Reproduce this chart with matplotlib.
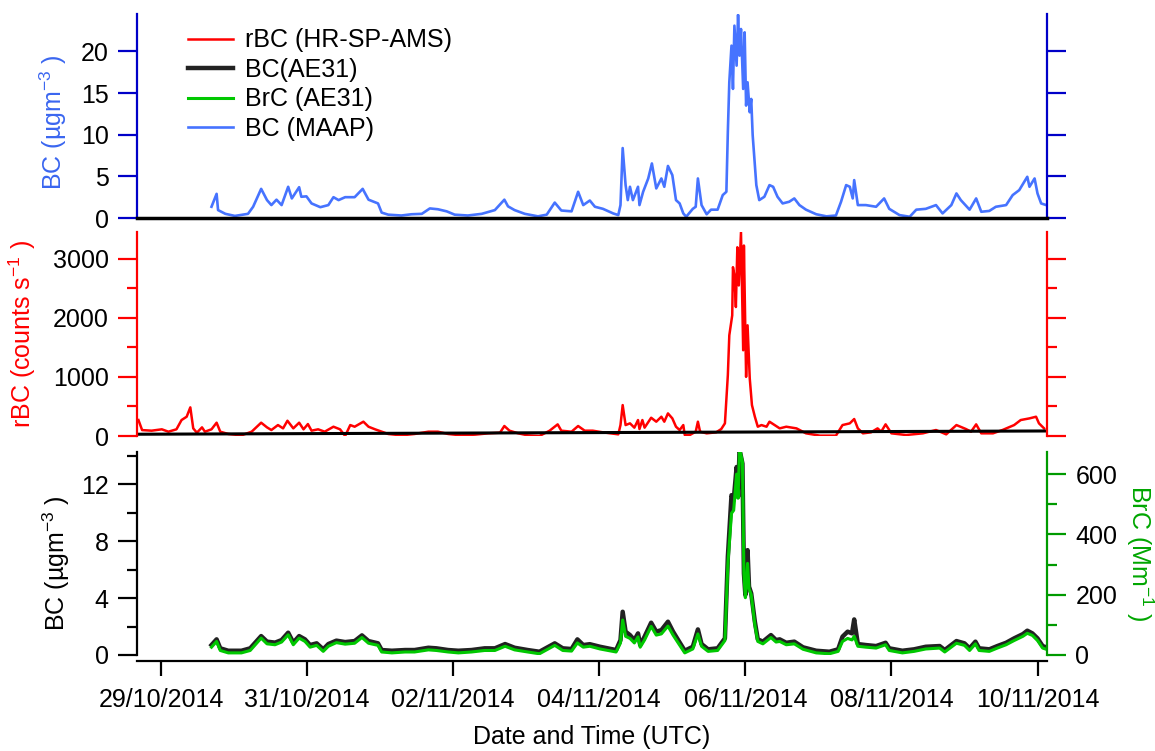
"""
Black carbon time series: MAAP, HR-SP-AMS and AE31 (Oct-Nov 2014).
"""

import numpy as np
import pandas as pd
import matplotlib
matplotlib.use("Agg")
import matplotlib.pyplot as plt
import matplotlib.dates as mdates
from matplotlib.ticker import MultipleLocator

plt.rcParams['font.family'] = ['Liberation Sans', 'DejaVu Sans']
plt.rcParams['mathtext.default'] = 'regular'

t0 = pd.Timestamp('2014-10-29 00:00')

# BC (MAAP), days since t0 and ug/m3
maap_day = [0.69, 0.76, 0.78, 0.88, 1.01, 1.19, 1.26, 1.37, 1.45, 1.51,
            1.58, 1.65, 1.74, 1.79, 1.89, 1.92, 1.99, 2.06, 2.18, 2.29,
            2.36, 2.43, 2.52, 2.65, 2.76, 2.84, 2.97, 3.02, 3.11, 3.29,
            3.43, 3.57, 3.68, 3.79, 3.91, 4.02, 4.20, 4.39, 4.57, 4.70,
            4.75, 4.84, 4.98, 5.16, 5.28, 5.39, 5.48, 5.62, 5.71, 5.78,
            5.87, 5.94, 6.05, 6.19, 6.26, 6.29, 6.32, 6.36, 6.39, 6.42,
            6.46, 6.53, 6.55, 6.60, 6.67, 6.72, 6.78, 6.85, 6.89, 6.94,
            7.00, 7.05, 7.10, 7.15, 7.19, 7.28, 7.32, 7.35, 7.40, 7.47,
            7.53, 7.62, 7.69, 7.74, 7.76, 7.78, 7.81, 7.83, 7.85, 7.88,
            7.90, 7.92, 7.94, 7.97, 7.99, 8.01, 8.03, 8.06, 8.08, 8.10,
            8.13, 8.15, 8.19, 8.26, 8.33, 8.38, 8.44, 8.51, 8.60, 8.67,
            8.74, 8.83, 8.97, 9.11, 9.24, 9.31, 9.38, 9.43, 9.47, 9.49,
            9.54, 9.65, 9.79, 9.90, 9.97, 10.11, 10.25, 10.34, 10.47, 10.61,
            10.70, 10.82, 10.89, 10.95, 11.07, 11.16, 11.23, 11.34, 11.43, 11.57,
            11.66, 11.75, 11.86, 11.89, 11.96, 12.00, 12.05, 12.12]
maap_bc = [1.35, 2.9, 0.95, 0.5, 0.25, 0.5, 1.35, 3.5, 2.15, 1.55,
           2.2, 1.55, 3.75, 2.35, 3.7, 2.55, 2.6, 1.75, 1.3, 1.55,
           2.5, 2.15, 2.5, 2.5, 3.5, 2.2, 1.75, 0.65, 0.4, 0.3,
           0.45, 0.5, 1.15, 1.05, 0.8, 0.4, 0.3, 0.5, 0.95, 2.2,
           1.4, 0.95, 0.5, 0.2, 0.4, 1.85, 0.9, 0.8, 3.15, 1.55,
           2.1, 1.35, 1.1, 0.55, 0.35, 1.55, 8.4, 3.95, 2.15, 3.75,
           2.15, 3.75, 1.55, 3.15, 4.75, 6.55, 3.55, 4.75, 3.75, 6.25,
           5.15, 2.15, 1.75, 0.55, 0.15, 1.1, 1.35, 4.75, 1.55, 0.45,
           1.0, 1.0, 2.75, 3.15, 10.35, 16.3, 20.7, 15.5, 23.1, 18.3,
           24.4, 19.5, 22.7, 15.5, 22.3, 13.5, 16.3, 12.7, 14.3, 9.95,
           6.35, 3.95, 2.15, 2.55, 3.95, 3.75, 2.55, 1.75, 1.95, 2.35,
           1.55, 1.0, 0.45, 0.2, 0.3, 1.95, 3.95, 3.75, 2.35, 4.55,
           1.55, 1.55, 1.35, 2.35, 1.1, 0.35, 0.15, 1.0, 1.1, 1.55,
           0.55, 1.55, 2.95, 2.15, 1.0, 2.35, 0.75, 0.85, 1.35, 1.55,
           2.75, 3.35, 4.95, 3.75, 4.75, 2.95, 1.75, 1.55]

# rBC (HR-SP-AMS), counts/s
rbc_day = [-0.31, -0.26, -0.13, 0.01, 0.10, 0.21, 0.28, 0.35, 0.40, 0.44,
           0.49, 0.56, 0.60, 0.69, 0.76, 0.81, 0.92, 1.10, 1.24, 1.37,
           1.45, 1.51, 1.60, 1.67, 1.73, 1.81, 1.89, 1.95, 2.01, 2.06,
           2.15, 2.24, 2.36, 2.45, 2.52, 2.59, 2.65, 2.77, 2.84, 2.93,
           3.02, 3.11, 3.29, 3.47, 3.66, 3.79, 3.93, 4.11, 4.30, 4.48,
           4.64, 4.70, 4.77, 4.89, 5.02, 5.18, 5.32, 5.43, 5.48, 5.62,
           5.71, 5.80, 5.91, 6.05, 6.26, 6.29, 6.32, 6.36, 6.42, 6.48,
           6.53, 6.55, 6.59, 6.62, 6.71, 6.78, 6.85, 6.89, 6.94, 7.00,
           7.05, 7.10, 7.15, 7.17, 7.24, 7.32, 7.35, 7.38, 7.47, 7.60,
           7.67, 7.72, 7.76, 7.78, 7.82, 7.83, 7.85, 7.87, 7.89, 7.91,
           7.94, 7.97, 7.98, 8.01, 8.03, 8.06, 8.09, 8.13, 8.17, 8.22,
           8.29, 8.33, 8.40, 8.47, 8.56, 8.70, 8.83, 9.02, 9.24, 9.33,
           9.43, 9.49, 9.54, 9.61, 9.72, 9.81, 9.86, 9.92, 10.00, 10.20,
           10.43, 10.61, 10.75, 10.89, 11.02, 11.09, 11.16, 11.23, 11.39, 11.52,
           11.68, 11.77, 11.89, 11.98, 12.02, 12.09]
rbc_counts = [270, 100, 90, 113, 73, 113, 270, 326, 484, 129,
              56, 146, 73, 113, 225, 73, 34, 11, 73, 225,
              146, 101, 185, 129, 258, 129, 225, 113, 202, 90,
              113, 73, 157, 113, 0, 185, 157, 242, 157, 113,
              73, 34, 11, 34, 73, 73, 34, 11, 23, 45,
              56, 169, 90, 45, 11, 0, 90, 197, 90, 73,
              169, 90, 90, 62, 28, 185, 523, 185, 214, 141,
              270, 118, 270, 141, 309, 242, 326, 242, 382, 298,
              157, 101, 185, 17, 17, 73, 242, 73, 45, 62,
              118, 214, 1029, 1703, 2040, 2855, 2715, 2181, 3192, 2546,
              3445, 1450, 3221, 1000, 1872, 973, 523, 326, 157, 185,
              157, 242, 185, 129, 157, 129, 45, 6, 6, 185,
              214, 287, 129, 45, 62, 129, 73, 197, 45, 17,
              45, 101, 28, 185, 118, 73, 197, 45, 45, 101,
              185, 270, 298, 326, 214, 129]

# baseline trace in the rBC panel
base_day = [-0.33, 12.12]
base_counts = [30, 85]

# AE31: BC (ug/m3) and BrC (Mm-1)
ae_day = [0.69, 0.76, 0.81, 0.92, 1.10, 1.22, 1.37, 1.45, 1.56, 1.65,
          1.74, 1.81, 1.89, 1.97, 2.04, 2.13, 2.22, 2.29, 2.40, 2.52,
          2.65, 2.75, 2.84, 2.97, 3.02, 3.16, 3.34, 3.47, 3.66, 3.77,
          3.93, 4.07, 4.25, 4.43, 4.57, 4.71, 4.84, 5.02, 5.18, 5.39,
          5.50, 5.62, 5.70, 5.78, 5.87, 6.01, 6.23, 6.29, 6.32, 6.36,
          6.42, 6.48, 6.53, 6.56, 6.62, 6.71, 6.78, 6.85, 6.94, 7.01,
          7.08, 7.17, 7.28, 7.35, 7.40, 7.49, 7.62, 7.72, 7.76, 7.81,
          7.84, 7.88, 7.90, 7.92, 7.96, 7.98, 8.00, 8.03, 8.05, 8.08,
          8.13, 8.17, 8.24, 8.35, 8.42, 8.47, 8.56, 8.67, 8.79, 8.97,
          9.15, 9.27, 9.33, 9.40, 9.46, 9.49, 9.54, 9.65, 9.79, 9.92,
          9.97, 10.15, 10.31, 10.47, 10.66, 10.73, 10.89, 11.00, 11.07, 11.15,
          11.20, 11.34, 11.45, 11.57, 11.68, 11.80, 11.86, 11.93, 12.00, 12.07, 12.12]
ae_bc = [0.70, 1.10, 0.47, 0.30, 0.30, 0.47, 1.33, 0.94, 0.87, 1.05,
         1.57, 0.87, 1.33, 1.10, 0.70, 0.82, 0.40, 0.77, 1.01, 0.91,
         0.98, 1.38, 0.98, 0.82, 0.35, 0.30, 0.35, 0.35, 0.51, 0.47,
         0.35, 0.30, 0.35, 0.47, 0.47, 0.77, 0.51, 0.35, 0.23, 0.82,
         0.47, 0.42, 1.10, 0.70, 0.76, 0.58, 0.35, 1.05, 3.04, 1.64,
         1.40, 1.05, 1.52, 0.70, 1.29, 2.27, 1.64, 1.75, 2.34, 1.64,
         1.05, 0.30, 0.58, 1.80, 0.77, 0.40, 0.47, 1.17, 6.90, 11.23,
         10.88, 13.21, 11.11, 14.44, 13.45, 5.73, 4.21, 7.37, 4.80, 4.33,
         2.34, 1.10, 0.94, 1.40, 1.05, 1.10, 0.86, 0.94, 0.54, 0.30,
         0.23, 0.40, 1.29, 1.64, 1.52, 2.50, 0.77, 0.70, 0.63, 0.86,
         0.47, 0.30, 0.40, 0.58, 0.63, 0.35, 0.98, 0.82, 0.47, 0.94,
         0.47, 0.40, 0.63, 0.86, 1.17, 1.47, 1.71, 1.52, 1.17, 0.63, 0.54]
ae_brc = [26, 45, 15, 7, 7, 15, 56, 37, 34, 43,
          67, 34, 56, 45, 26, 32, 12, 29, 41, 36,
          39, 58, 39, 32, 10, 7, 10, 10, 17, 15,
          10, 7, 10, 15, 15, 29, 17, 10, 4, 32,
          15, 13, 40, 26, 29, 20, 10, 40, 116, 62,
          55, 40, 60, 26, 50, 95, 66, 70, 96, 66,
          40, 7, 20, 70, 29, 12, 15, 48, 300, 470,
          480, 600, 520, 686, 640, 271, 190, 304, 220, 200,
          100, 45, 37, 58, 43, 45, 34, 37, 19, 7,
          4, 12, 45, 55, 50, 62, 29, 26, 23, 34,
          15, 7, 12, 20, 23, 10, 39, 32, 15, 37,
          15, 12, 23, 34, 48, 62, 72, 65, 48, 23, 19]

date_ticks = pd.date_range('2014-10-29', '2014-11-10', freq='2D')
x_range = [-0.33, 12.13]

FS = 18


def to_time(days):
    return t0 + pd.to_timedelta(np.asarray(days, dtype=float), unit='D')


def style_y(ax, side, color, major, minor=None):
    """Igor-like vertical axis: coloured spine and outward ticks."""
    ax.spines[side].set_color(color)
    ax.spines[side].set_linewidth(1.6)
    ax.yaxis.set_major_locator(MultipleLocator(major))
    if minor:
        ax.yaxis.set_minor_locator(MultipleLocator(minor))
    kw = dict(axis='y', which='both', direction='out', color=color, width=1.6,
              labelcolor='black', labelsize=FS)
    if side == 'left':
        ax.tick_params(left=True, **kw)
    else:
        ax.tick_params(right=True, **kw)
    ax.tick_params(axis='y', which='major', length=13.5, pad=7)
    ax.tick_params(axis='y', which='minor', length=7)


W, H = 1155, 751
fig = plt.figure(figsize=(W / 100, H / 100), dpi=100)
x0, wd = 137 / W, 910 / W
ax1 = fig.add_axes([x0, 1 - 218 / H, wd, 204 / H])
ax2 = fig.add_axes([x0, 1 - 436 / H, wd, 204 / H])
ax3 = fig.add_axes([x0, 1 - 655 / H, wd, 203.5 / H])
ax3r = ax3.twinx()

blue_ax, red_ax, green_ax = '#0000C8', '#FF0000', '#009A00'

# top: MAAP
l_maap, = ax1.plot(to_time(maap_day), maap_bc, color='#4673FF', lw=1.9)
ax1.set_ylim(0, 24.5)
ax1.spines['top'].set_visible(False)
ax1.spines['bottom'].set_color('black')
ax1.spines['bottom'].set_linewidth(2.5)
style_y(ax1, 'left', blue_ax, 5)
style_y(ax1, 'right', blue_ax, 5)
ax1.tick_params(axis='y', labelright=False)

# middle: rBC
l_rbc, = ax2.plot(to_time(rbc_day), rbc_counts, color='#FF0000', lw=1.8)
ax2.plot(to_time(base_day), base_counts, color='black', lw=2.2)
ax2.set_ylim(0, 3450)
for s in ('top', 'bottom'):
    ax2.spines[s].set_visible(False)
style_y(ax2, 'left', red_ax, 1000, 500)
style_y(ax2, 'right', red_ax, 1000, 500)
ax2.tick_params(axis='y', labelright=False)

# bottom: AE31 BC and BrC
l_ae, = ax3.plot(to_time(ae_day), ae_bc, color='#222222', lw=3.2)
l_brc, = ax3r.plot(to_time(ae_day), ae_brc, color='#00C800', lw=2.2)
ax3.set_ylim(0, 14.3)
ax3r.set_ylim(0, 675)
ax3.spines['top'].set_visible(False)
ax3.spines['right'].set_visible(False)
ax3r.spines['top'].set_visible(False)
ax3r.spines['left'].set_visible(False)
ax3r.spines['bottom'].set_visible(False)
style_y(ax3, 'left', 'black', 4, 2)
style_y(ax3r, 'right', green_ax, 200, 100)
ax3.spines['bottom'].set_position(('outward', 4))
ax3.spines['bottom'].set_linewidth(1.6)

for ax in (ax1, ax2, ax3, ax3r):
    ax.set_xlim(to_time(x_range))
    ax.patch.set_visible(False)
for ax in (ax1, ax2):
    ax.tick_params(axis='x', bottom=False, labelbottom=False)

ax3.set_xticks(date_ticks)
ax3.xaxis.set_major_formatter(mdates.DateFormatter('%d/%m/%Y'))
ax3.tick_params(axis='x', direction='out', length=11, width=1.6,
                labelsize=FS, pad=9)
ax3.set_xlabel('Date and Time (UTC)', fontsize=FS, labelpad=9)

fig.text(53 / W, 1 - 122 / H, 'BC (µgm$^{-3}$ )', rotation=90,
         color='#3A66F0', fontsize=FS, ha='center', va='center')
fig.text(22 / W, 1 - 334 / H, 'rBC (counts s$^{-1}$ )', rotation=90,
         color='#FF0000', fontsize=FS, ha='center', va='center')
fig.text(56 / W, 1 - 563 / H, 'BC (µgm$^{-3}$ )', rotation=90,
         color='black', fontsize=FS, ha='center', va='center')
fig.text(1140 / W, 1 - 553 / H, 'BrC (Mm$^{-1}$ )', rotation=-90,
         color='#00A600', fontsize=FS, ha='center', va='center')

leg = ax1.legend([l_rbc, l_ae, l_brc, l_maap],
                 ['rBC (HR-SP-AMS)', 'BC(AE31)', 'BrC (AE31)', 'BC (MAAP)'],
                 loc='upper left', bbox_to_anchor=(0.056, 0.93), frameon=False,
                 fontsize=FS, handlelength=1.8, handletextpad=0.5,
                 labelspacing=0.22, borderpad=0, borderaxespad=0)

fig.savefig('out.png', dpi=100)
